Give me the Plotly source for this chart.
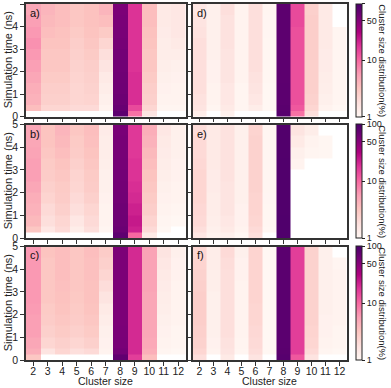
import math
import plotly.graph_objects as go

CLUSTER_SIZES = [2, 3, 4, 5, 6, 7, 8, 9, 10, 11, 12]
TIME_EDGES = [0, 0.25, 0.5, 1.0, 1.5, 2.0, 2.5, 3.0, 3.5, 4.0, 4.5, 5.0]
CBAR_TICKS = [1, 10, 50, 100]
PANEL_LABELS = ["a)", "b)", "c)", "d)", "e)", "f)"]
N = None

# rows: time bins from bottom (0 ns) to top (5 ns); columns: cluster size 2..12 (%)
PANEL_A = [
    [N, N, N, N, N, N, 78, 9, 1.6, N, N],
    [3.5, 2.2, 2.2, 2.0, 2.0, 1.1, 70, 14, 2.2, 1.05, 1.05],
    [4.2, 2.5, 2.5, 2.2, 2.3, 1.2, 66, 19, 2.5, 1.1, 1.1],
    [4.5, 2.6, 2.6, 2.2, 2.4, 1.3, 64, 19, 2.6, 1.15, 1.1],
    [5.0, 2.8, 2.8, 2.3, 2.5, 1.4, 63, 19, 2.8, 1.2, 1.15],
    [5.5, 3.0, 3.0, 2.4, 2.6, 1.6, 62, 18, 3.0, 1.25, 1.2],
    [6.0, 3.0, 3.0, 2.5, 2.8, 1.8, 60, 18, 3.0, 1.3, 1.3],
    [6.5, 3.2, 3.2, 2.6, 3.0, 2.2, 58, 18, 3.2, 1.3, 1.4],
    [6.0, 3.5, 3.3, 2.8, 3.2, 2.8, 57, 18, 3.3, 1.35, 1.5],
    [5.5, 3.8, 3.5, 3.0, 3.3, 3.5, 56, 18, 3.5, 1.4, 1.5],
    [5.0, 4.0, 3.5, 3.0, 3.3, 4.0, 55, 18, 3.5, 1.4, 1.5],
]
PANEL_B = [
    [N, N, N, N, N, N, 78, 10, 1.4, N, N],
    [3.0, 1.5, 2.0, 1.3, 1.8, 1.05, 68, 22, 2.0, 1.0, N],
    [3.8, 1.8, 2.2, 1.5, 2.0, 1.1, 65, 24, 2.3, 1.05, 1.0],
    [4.2, 2.0, 2.5, 1.8, 2.2, 1.1, 64, 22, 2.6, 1.1, 1.05],
    [4.5, 2.3, 2.7, 2.0, 2.5, 1.15, 62, 20, 2.8, 1.15, 1.1],
    [5.0, 2.5, 2.8, 2.2, 2.7, 1.2, 61, 19, 3.0, 1.2, 1.1],
    [5.5, 2.7, 3.0, 2.3, 2.8, 1.2, 60, 18, 3.2, 1.25, 1.15],
    [5.5, 2.8, 3.2, 2.5, 3.0, 1.25, 59, 18, 3.5, 1.3, 1.15],
    [5.2, 3.0, 3.5, 2.7, 3.2, 1.3, 58, 17, 3.8, 1.35, 1.2],
    [5.0, 3.2, 3.8, 2.8, 3.4, 1.3, 58, 17, 4.2, 1.4, 1.2],
    [5.0, 3.2, 4.0, 3.0, 3.5, 1.35, 57, 17, 4.5, 1.5, 1.2],
]
PANEL_C = [
    [3.0, N, N, N, N, N, 75, 16, 3.5, N, N],
    [4.5, 1.6, 2.2, 1.8, 2.0, 1.1, 60, 20, 4.5, 1.05, 1.0],
    [5.0, 2.2, 2.5, 2.2, 2.5, 1.15, 57, 20, 4.8, 1.1, 1.05],
    [5.5, 2.5, 2.8, 2.5, 2.8, 1.2, 56, 20, 5.0, 1.15, 1.05],
    [5.5, 2.7, 3.0, 2.7, 3.0, 1.3, 55, 20, 5.0, 1.2, 1.1],
    [5.8, 2.8, 3.2, 2.8, 3.2, 1.4, 55, 20, 5.0, 1.25, 1.1],
    [6.0, 3.0, 3.3, 2.9, 3.3, 1.6, 55, 20, 5.0, 1.3, 1.1],
    [6.0, 3.0, 3.4, 3.0, 3.3, 1.9, 55, 20, 5.2, 1.35, 1.1],
    [6.0, 3.0, 3.5, 3.0, 3.4, 2.2, 55, 20, 5.2, 1.4, 1.15],
    [6.0, 3.0, 3.5, 3.0, 3.4, 2.5, 55, 20, 5.3, 1.5, 1.15],
    [6.0, 3.2, 3.5, 3.0, 3.5, 2.7, 55, 20, 5.3, 1.6, 1.2],
]
PANEL_D = [
    [1.3, N, 1.2, N, N, N, 85, 9, 1.8, N, N],
    [1.6, 1.05, 1.4, 1.05, 1.3, 1.0, 82, 12, 2.2, 1.1, 1.0],
    [1.7, 1.1, 1.5, 1.05, 1.5, 1.0, 80, 13, 2.4, 1.2, 1.05],
    [1.8, 1.1, 1.5, 1.05, 1.6, 1.0, 80, 13, 2.5, 1.25, 1.05],
    [1.8, 1.15, 1.6, 1.1, 1.7, 1.02, 79, 13, 2.5, 1.3, 1.05],
    [1.8, 1.15, 1.6, 1.1, 1.8, 1.02, 79, 13, 2.5, 1.35, 1.05],
    [1.8, 1.2, 1.6, 1.1, 1.8, 1.03, 79, 13, 2.6, 1.35, 1.05],
    [1.8, 1.2, 1.7, 1.1, 1.8, 1.03, 79, 13, 2.6, 1.4, 1.05],
    [1.7, 1.2, 1.7, 1.1, 1.8, 1.04, 79, 13, 2.6, 1.4, 1.05],
    [1.6, 1.2, 1.7, 1.1, 1.8, 1.04, 79, 14, 2.6, 1.4, N],
    [1.5, 1.2, 1.8, 1.1, 1.8, 1.05, 79, 14, 2.5, 1.4, N],
]
PANEL_E = [
    [1.5, 1.1, 1.2, 1.0, 1.8, N, 92, N, N, N, N],
    [1.8, 1.2, 1.4, 1.1, 2.0, 1.0, 92, N, N, N, N],
    [2.0, 1.25, 1.5, 1.15, 2.2, 1.02, 92, N, N, N, N],
    [2.1, 1.3, 1.6, 1.15, 2.3, 1.03, 91, N, N, N, N],
    [2.2, 1.3, 1.6, 1.2, 2.3, 1.04, 91, N, N, N, N],
    [2.2, 1.35, 1.6, 1.2, 2.4, 1.05, 91, N, N, N, N],
    [2.2, 1.35, 1.7, 1.2, 2.4, 1.05, 91, N, N, N, N],
    [2.1, 1.4, 1.7, 1.2, 2.4, 1.05, 91, 1.1, N, N, N],
    [2.0, 1.4, 1.7, 1.2, 2.4, 1.05, 90, 1.2, 1.05, 1.02, N],
    [2.0, 1.4, 1.7, 1.2, 2.4, 1.05, 90, 1.4, 1.1, 1.03, N],
    [1.9, 1.4, 1.7, 1.2, 2.3, 1.05, 90, 1.6, 1.3, N, N],
]
PANEL_F = [
    [1.8, N, 1.4, N, 1.6, N, 85, 12, 1.6, N, N],
    [2.2, 1.1, 1.6, 1.05, 1.9, 1.0, 82, 16, 2.0, 1.05, 1.0],
    [2.4, 1.15, 1.7, 1.08, 2.0, 1.0, 81, 16, 2.2, 1.1, 1.05],
    [2.5, 1.2, 1.8, 1.1, 2.1, 1.0, 81, 16, 2.3, 1.15, 1.05],
    [2.6, 1.2, 1.8, 1.1, 2.2, 1.0, 81, 16, 2.4, 1.15, 1.1],
    [2.6, 1.2, 1.8, 1.1, 2.2, 1.0, 81, 16, 2.4, 1.2, 1.1],
    [2.6, 1.2, 1.8, 1.1, 2.3, 1.0, 81, 16, 2.4, 1.2, 1.1],
    [2.5, 1.25, 1.8, 1.1, 2.3, 1.0, 81, 16, 2.4, 1.2, 1.1],
    [2.4, 1.25, 1.8, 1.15, 2.3, 1.0, 81, 16, 2.4, 1.2, 1.1],
    [2.3, 1.3, 1.9, 1.15, 2.3, 1.0, 81, 16, 2.4, 1.2, 1.05],
    [2.2, 1.3, 2.0, 1.2, 2.3, 1.0, 81, 16, 2.4, 1.2, N],
]

W, H = 391, 388
FONT = "Liberation Sans, Arial, sans-serif"
FRAME = "#333333"
TXT = "#222222"

def norm(v):
    return None if v is None else math.log10(v)

def zmat(panel):
    return [[norm(v) for v in row] for row in panel]

# layout geometry (pixels)
XCOLS = [(26, 185.5), (192.5, 346.5)]
YROWS = [(4, 116.5), (124.5, 238), (246.5, 360)]
CB_X0, CB_W = 356, 6

def px(x):
    return x / W

def py(y):
    return 1 - y / H

panels = [PANEL_A, PANEL_B, PANEL_C, PANEL_D, PANEL_E, PANEL_F]
fig = go.Figure()
layout = {}
ann = []
for i, panel in enumerate(panels):
    col = i // 3
    row = i % 3
    n = i + 1
    xa = "x" if n == 1 else f"x{n}"
    ya = "y" if n == 1 else f"y{n}"
    ca = "coloraxis" if row == 0 else f"coloraxis{row + 1}"
    fig.add_trace(go.Heatmap(
        x=CLUSTER_SIZES, y=TIME_EDGES, z=zmat(panel),
        xaxis=xa, yaxis=ya, coloraxis=ca, hoverongaps=False,
    ))
    x0, x1 = XCOLS[col]
    y0, y1 = YROWS[row]
    axcommon = dict(showline=True, mirror=True, linecolor=FRAME, linewidth=1.5,
                    ticks="outside", ticklen=4, tickwidth=1, tickcolor=FRAME,
                    showgrid=False, zeroline=False,
                    tickfont=dict(family=FONT, size=10.5, color=TXT))
    layout["xaxis" if n == 1 else f"xaxis{n}"] = dict(
        domain=[px(x0), px(x1)], anchor=ya, range=[1.5, 12.5], ticklabelstandoff=-3,
        tickvals=CLUSTER_SIZES, showticklabels=(row == 2), **axcommon)
    layout["yaxis" if n == 1 else f"yaxis{n}"] = dict(
        domain=[py(y1), py(y0)], anchor=xa, range=[0, 5],
        tickvals=[0, 1, 2, 3, 4, 5], showticklabels=(col == 0), **axcommon)
    ann.append(dict(x=px(x0 + 3), y=py(y0 + 2), xref="paper", yref="paper",
                    text=PANEL_LABELS[i], showarrow=False, xanchor="left", yanchor="top",
                    borderpad=0, font=dict(family=FONT, size=11, color="#111111")))

for row in range(3):
    y0, y1 = YROWS[row]
    key = "coloraxis" if row == 0 else f"coloraxis{row + 1}"
    layout[key] = dict(
        colorscale="RdPu", cmin=0, cmax=2,
        colorbar=dict(
            x=px(CB_X0), xanchor="left", xpad=0, ypad=0,
            y=py((y0 + y1) / 2), yanchor="middle",
            len=(y1 - y0) / H, lenmode="fraction",
            thickness=CB_W, thicknessmode="pixels",
            outlinewidth=1, outlinecolor=TXT,
            tickvals=[norm(v) for v in CBAR_TICKS],
            ticktext=[str(v) for v in CBAR_TICKS],
            ticks="outside", ticklen=3, tickcolor=TXT,
            tickfont=dict(family=FONT, size=9, color=TXT),
        ),
    )
    ann.append(dict(x=px(383), y=py((y0 + y1) / 2), xref="paper", yref="paper",
                    xanchor="center", yanchor="middle", borderpad=0,
                    text="Cluster size distribution(%)", textangle=90, showarrow=False,
                    font=dict(family=FONT, size=9.5, color=TXT)))
    ann.append(dict(x=px(8), y=py((y0 + y1) / 2), xref="paper", yref="paper",
                    xanchor="center", yanchor="middle", borderpad=0,
                    text="Simulation time (ns)", textangle=-90, showarrow=False,
                    font=dict(family=FONT, size=11, color=TXT)))

for col in range(2):
    x0, x1 = XCOLS[col]
    ann.append(dict(x=px((x0 + x1) / 2), y=py(388), xref="paper", yref="paper",
                    text="Cluster size", showarrow=False, xanchor="center", yanchor="bottom",
                    borderpad=0, font=dict(family=FONT, size=10.5, color=TXT)))

fig.update_layout(width=W, height=H,
                  margin=dict(l=0, r=0, t=0, b=0, pad=0, autoexpand=False),
                  paper_bgcolor="white", plot_bgcolor="white",
                  annotations=ann, showlegend=False, **layout)
fig.write_html(
    "out.html",
    config={"displayModeBar": False},
    post_script="document.body.style.margin='0px';document.body.style.overflow='hidden';",
)
